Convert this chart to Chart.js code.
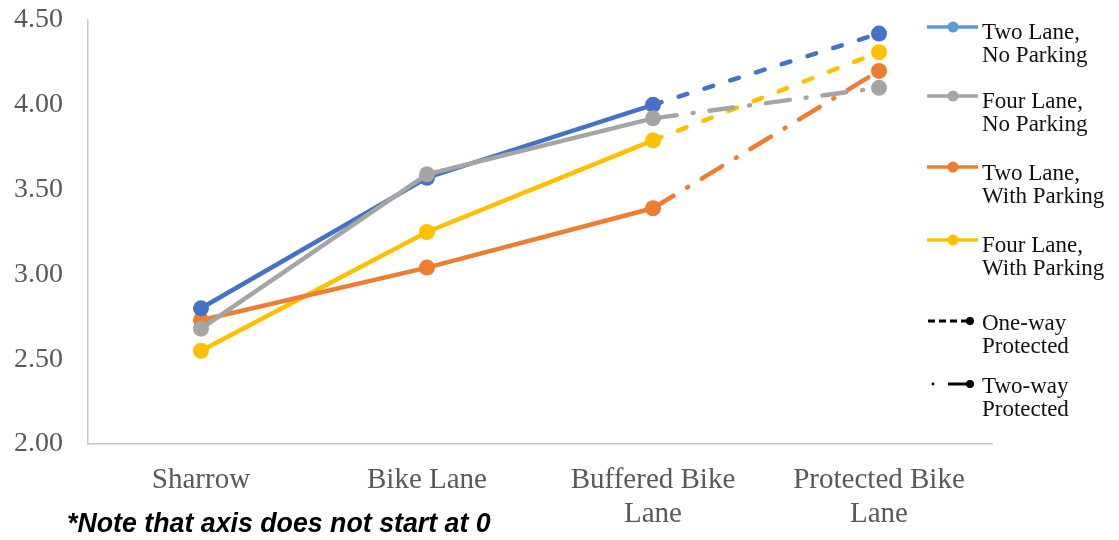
<!DOCTYPE html>
<html>
<head>
<meta charset="utf-8">
<script src="https://cdn.jsdelivr.net/npm/chart.js@4/dist/chart.umd.min.js"></script>
<style>
  html, body { margin: 0; padding: 0; background: #fff; }
  #wrap { position: relative; width: 1119px; height: 540px; overflow: hidden; }
  #chart { position: absolute; left: 0; top: 0; }
  .lg-text { position: absolute; left: 982px; font: 23px "Liberation Serif", "Times New Roman", serif; line-height: 23px; color: #111; white-space: nowrap; }
  .lg-mark { position: absolute; left: 920px; width: 62px; height: 16px; }
  #note { position: absolute; left: 67px; top: 508px; font: italic bold 26.75px "Liberation Sans", Arial, sans-serif; line-height: 30px; color: #000; white-space: nowrap; }
</style>
</head>
<body>
<div id="wrap">
  <canvas id="chart" width="1119" height="540"></canvas>
  <div id="legend"></div>
  <div id="note">*Note that axis does not start at 0</div>
</div>
<script>
// Facility types along the x axis (last two split over two lines)
const categories = ["Sharrow", "Bike Lane", ["Buffered Bike", "Lane"], ["Protected Bike", "Lane"]];

// Mean comfort ratings per street type
const twoLaneNoParking = [2.80, 3.57, 4.00, 4.42];
const fourLaneNoParking = [2.68, 3.59, 3.92, 4.10];
const twoLaneWithParking = [2.73, 3.04, 3.39, 4.20];
const fourLaneWithParking = [2.55, 3.25, 3.79, 4.31];

const seriesNames = [["Two Lane,", "No Parking"], ["Four Lane,", "No Parking"], ["Two Lane,", "With Parking"], ["Four Lane,", "With Parking"]];
const yTicks = [2.0, 2.5, 3.0, 3.5, 4.0, 4.5];

const ONE_WAY = [9, 18];
const TWO_WAY = [24, 16, 1, 16];

// The last segment (to Protected Bike Lane) is dashed by protection type
function lastSegment(pattern) {
  return {
    borderDash: ctx => ctx.p1DataIndex === 3 ? pattern : undefined,
    borderCapStyle: () => "round"
  };
}

function series(label, data, color, pattern, order) {
  return {
    label, data, order,
    borderColor: color, backgroundColor: color,
    pointBackgroundColor: color, pointBorderColor: color,
    borderWidth: 4.5, pointRadius: 8, pointBorderWidth: 0, pointHoverRadius: 8,
    borderCapStyle: "round", tension: 0,
    segment: lastSegment(pattern)
  };
}

const serif = "'Liberation Serif', 'Times New Roman', serif";

new Chart(document.getElementById("chart"), {
  type: "line",
  data: {
    labels: categories,
    datasets: [
      series(seriesNames[0].join(" "), twoLaneNoParking, "#4472C4", ONE_WAY, 1),
      series(seriesNames[1].join(" "), fourLaneNoParking, "#A5A5A5", TWO_WAY, 0),
      series(seriesNames[2].join(" "), twoLaneWithParking, "#ED7D31", TWO_WAY, 2),
      series(seriesNames[3].join(" "), fourLaneWithParking, "#FFC000", ONE_WAY, 3)
    ]
  },
  options: {
    responsive: false,
    animation: false,
    layout: { padding: { left: 0, right: 127, top: 0, bottom: 0 } },
    plugins: { legend: { display: false }, tooltip: { enabled: false } },
    scales: {
      x: {
        offset: true,
        grid: { display: false, drawTicks: false },
        border: { display: true, color: "#C8C8C8", width: 1.5 },
        ticks: { color: "#595959", padding: 18.6, maxRotation: 0, autoSkip: false,
                 font: { family: serif, size: 29, lineHeight: 1.2 } },
        afterFit: s => { s.height = 96; }
      },
      y: {
        min: yTicks[0], max: yTicks[yTicks.length - 1],
        afterBuildTicks: s => { s.ticks = yTicks.map(v => ({ value: v })); },
        grid: { display: false, drawTicks: false },
        border: { display: true, color: "#C8C8C8", width: 1.5 },
        ticks: { color: "#595959", padding: 25, callback: v => Number(v).toFixed(2),
                 font: { family: serif, size: 28 } },
        afterFit: s => { s.width = 88; s.paddingTop = 20; s.paddingBottom = 20; }
      }
    }
  }
});

// Legend: four street types plus the two protection line styles
const legendColors = ["#5B9BD5", "#A5A5A5", "#ED7D31", "#FFC000"];
const legendTextTops = [19.5, 88.5, 160.5, 232.5, 310.5, 373.5];
const legendMarkY = [27, 96, 167, 240, 321, 384];
const legendLines = seriesNames.concat([["One-way", "Protected"], ["Two-way", "Protected"]]);
const legend = document.getElementById("legend");
const NS = "http://www.w3.org/2000/svg";

legendLines.forEach((lines, i) => {
  const svg = document.createElementNS(NS, "svg");
  svg.setAttribute("class", "lg-mark");
  svg.setAttribute("width", "62");
  svg.setAttribute("height", "16");
  svg.style.top = (legendMarkY[i] - 8) + "px";
  let inner;
  if (i < 4) {
    const c = legendColors[i];
    inner = `<line x1="7" y1="8" x2="58" y2="8" stroke="${c}" stroke-width="3.5"/>` +
            `<circle cx="33" cy="8" r="5.5" fill="${c}"/>`;
  } else if (i === 4) {
    inner = `<line x1="8" y1="8" x2="50" y2="8" stroke="#000" stroke-width="3" stroke-dasharray="7 4"/>` +
            `<circle cx="50" cy="8" r="4" fill="#000"/>`;
  } else {
    inner = `<circle cx="13" cy="8" r="1.4" fill="#000"/>` +
            `<line x1="28" y1="8" x2="50" y2="8" stroke="#000" stroke-width="3"/>` +
            `<circle cx="50" cy="8" r="4" fill="#000"/>`;
  }
  svg.innerHTML = inner;
  legend.appendChild(svg);

  const t = document.createElement("div");
  t.className = "lg-text";
  t.style.top = legendTextTops[i] + "px";
  t.innerHTML = lines.join("<br>");
  legend.appendChild(t);
});
</script>
</body>
</html>
